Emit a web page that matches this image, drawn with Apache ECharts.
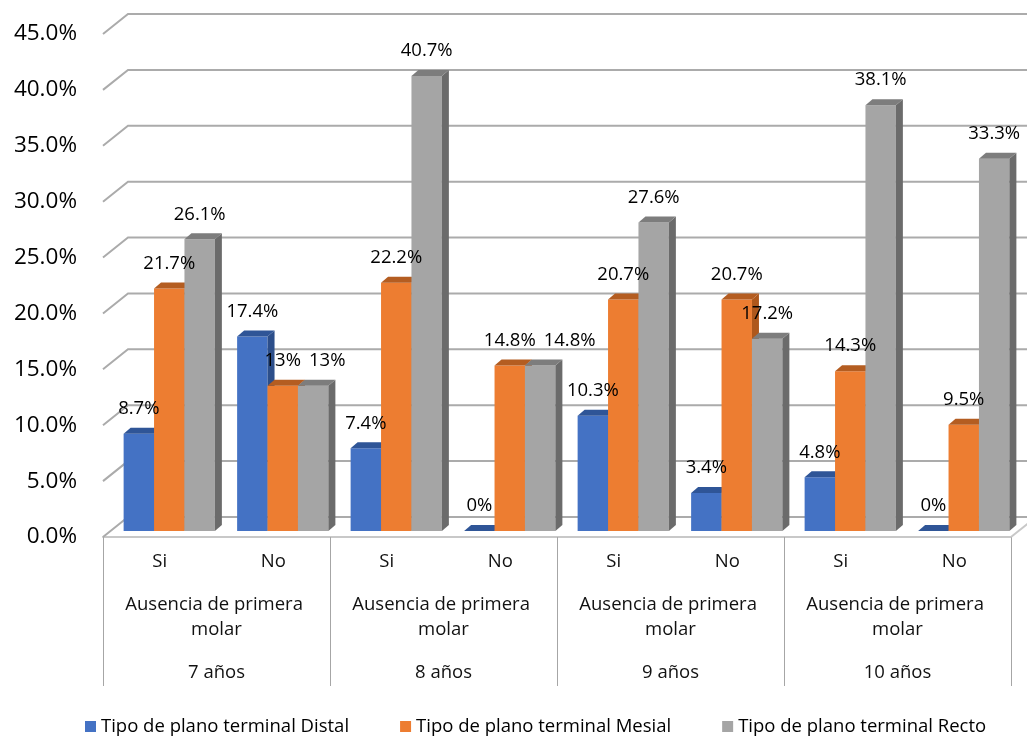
<!DOCTYPE html>
<html>
<head>
<meta charset="utf-8">
<script src="https://cdn.jsdelivr.net/npm/echarts@6/dist/echarts.min.js"></script>
<style>
  html, body { margin: 0; padding: 0; background: #ffffff; }
  #chart { width: 1027px; height: 736px; }
</style>
</head>
<body>
<div id="chart"></div>
<script>
// Category levels (innermost first)
const subCategories = ['Si', 'No', 'Si', 'No', 'Si', 'No', 'Si', 'No'];
const groupLabels = ['Ausencia de primera molar', 'Ausencia de primera molar', 'Ausencia de primera molar', 'Ausencia de primera molar'];
const yearLabels = ['7 años', '8 años', '9 años', '10 años'];

// Series (percent values)
const seriesNames = ['Tipo de plano terminal Distal', 'Tipo de plano terminal Mesial', 'Tipo de plano terminal Recto'];
const distal = [8.7, 17.4, 7.4, 0, 10.3, 3.4, 4.8, 0];
const mesial = [21.7, 13, 22.2, 14.8, 20.7, 20.7, 14.3, 9.5];
const recto = [26.1, 13, 40.7, 14.8, 27.6, 17.2, 38.1, 33.3];

// Value axis ticks
const yTicks = [0, 5, 10, 15, 20, 25, 30, 35, 40, 45];

const FONT = '"Open Sans", "Liberation Sans", sans-serif';
const LABEL_FONT = '18.5px ' + FONT;

// Shading of each box: front, top and right-hand faces
const faces = [
  { front: '#4472C4', top: '#2F5597', side: '#2C4E8A' },
  { front: '#ED7D31', top: '#B45D21', side: '#AE581C' },
  { front: '#A5A5A5', top: '#7D7D7D', side: '#6B6B6B' }
];

// Oblique projection: back wall offset and bar offset/depth
const WALL_DX = 25, WALL_DY = -20;
const BAR_SHIFT_X = 9.5, BAR_SHIFT_Y = -6;
const BAR_DX = 7, BAR_DY = -6;
const BAR_RATIO = 0.268;
const LABEL_RISE = 25;

const measureCtx = document.createElement('canvas').getContext('2d');
function textWidth(str) {
  measureCtx.font = LABEL_FONT;
  return measureCtx.measureText(str).width;
}

function pctLabel(v) {
  return parseFloat(v.toFixed(1)) + '%';
}

// Label boxes already placed, per series and category, so that a label
// sitting level with its left neighbour is nudged to the right.
const placedLabels = [[], [], []];

function barRenderer(k) {
  return function (params, api) {
    const i = api.value(0);
    const v = api.value(1);
    const p0 = api.coord([i, 0]);
    const p1 = api.coord([i, v]);
    const slot = api.size([1, 0])[0];
    const w = slot * BAR_RATIO;
    const x = p0[0] - 1.5 * w + BAR_SHIFT_X + k * w;
    const yb = p0[1] + BAR_SHIFT_Y;
    const yt = p1[1] + BAR_SHIFT_Y;
    const c = faces[k];
    const children = [];
    if (yb - yt > 0.3) {
      children.push({
        type: 'rect',
        shape: { x: x, y: yt, width: w, height: yb - yt },
        style: { fill: c.front }
      });
      children.push({
        type: 'polygon',
        shape: { points: [[x + w, yt], [x + w + BAR_DX, yt + BAR_DY], [x + w + BAR_DX, yb + BAR_DY], [x + w, yb]] },
        style: { fill: c.side }
      });
    }
    children.push({
      type: 'polygon',
      shape: { points: [[x, yt], [x + w, yt], [x + w + BAR_DX, yt + BAR_DY], [x + BAR_DX, yt + BAR_DY]] },
      style: { fill: c.top }
    });

    const text = pctLabel(v);
    const tw = textWidth(text);
    let cx = x + w / 2;
    const cy = yt - LABEL_RISE;
    for (let j = 0; j < k; j++) {
      const prev = placedLabels[j][i];
      if (prev && Math.abs(prev.cy - cy) < 20 && cx - tw / 2 < prev.right + 8) {
        cx = prev.right + 8 + tw / 2;
      }
    }
    placedLabels[k][i] = { cy: cy, right: cx + tw / 2 };
    children.push({
      type: 'text',
      z2: 100,
      style: {
        text: text,
        x: cx,
        y: cy,
        align: 'center',
        verticalAlign: 'middle',
        font: LABEL_FONT,
        fill: '#000000'
      }
    });
    return { type: 'group', children: children };
  };
}

// Back-wall gridlines with the diagonal running to the front edge
function wallRenderer(params, api) {
  const v = api.value(1);
  const p = api.coord([0, v]);
  const cs = params.coordSys;
  const xl = cs.x;
  const y = p[1];
  const children = [{
    type: 'polyline',
    shape: { points: [[xl, y], [xl + WALL_DX, y + WALL_DY], [xl + cs.width + WALL_DX + 40, y + WALL_DY]] },
    style: { stroke: '#ABABAB', lineWidth: 2, fill: null }
  }];
  if (v === 0) {
    children.push({
      type: 'line',
      shape: { x1: xl + cs.width, y1: y, x2: xl + cs.width + WALL_DX, y2: y + WALL_DY },
      style: { stroke: '#C8C8C8', lineWidth: 2 }
    });
  }
  return { type: 'group', children: children };
}

const chart = echarts.init(document.getElementById('chart'), null, { renderer: 'canvas' });

const valueSets = [distal, mesial, recto];

const option = {
  animation: false,
  backgroundColor: '#ffffff',
  color: faces.map(f => f.front),
  grid: { left: 103, right: 16, top: 34, bottom: 199, containLabel: false },
  legend: {
    data: seriesNames,
    left: 80,
    top: 712,
    icon: 'rect',
    itemWidth: 11,
    itemHeight: 11,
    itemGap: 51,
    textStyle: { fontFamily: FONT, fontSize: 18.5, color: '#000000' }
  },
  xAxis: [
    {
      type: 'category',
      data: subCategories,
      position: 'bottom',
      axisLine: { show: true, lineStyle: { color: '#C8C8C8', width: 2 } },
      axisTick: { show: false },
      axisLabel: { interval: 0, margin: 12.5, lineHeight: 25, fontFamily: FONT, fontSize: 18.5, color: '#111111' }
    },
    {
      type: 'category',
      data: groupLabels,
      position: 'bottom',
      axisLine: { show: false },
      axisTick: { show: false },
      axisLabel: {
        interval: 0, margin: 55.5, lineHeight: 25, width: 200, overflow: 'break',
        align: 'center', fontFamily: FONT, fontSize: 18.5, color: '#111111'
      }
    },
    {
      type: 'category',
      data: yearLabels,
      position: 'bottom',
      axisLine: { show: false },
      axisTick: { show: true, length: 149, lineStyle: { color: '#A6A6A6', width: 1 } },
      axisLabel: { interval: 0, margin: 123.5, lineHeight: 25, fontFamily: FONT, fontSize: 18.5, color: '#111111' }
    }
  ],
  yAxis: {
    type: 'value',
    min: 0,
    max: 45,
    interval: 5,
    axisLine: { show: false },
    axisTick: { show: false },
    splitLine: { show: false },
    axisLabel: {
      margin: 26,
      fontFamily: FONT,
      fontSize: 22.5,
      color: '#000000',
      formatter: v => v.toFixed(1) + '%'
    }
  },
  series: [
    {
      type: 'custom',
      name: 'wall',
      silent: true,
      xAxisIndex: 0,
      yAxisIndex: 0,
      z: 1,
      renderItem: wallRenderer,
      data: yTicks.map(v => [0, v])
    }
  ].concat(valueSets.map((vals, k) => ({
    type: 'custom',
    name: seriesNames[k],
    xAxisIndex: 0,
    yAxisIndex: 0,
    z: 2,
    itemStyle: { color: faces[k].front },
    renderItem: barRenderer(k),
    encode: { x: 0, y: 1 },
    data: vals.map((v, i) => [i, v])
  })))
};

chart.setOption(option);
</script>
</body>
</html>
